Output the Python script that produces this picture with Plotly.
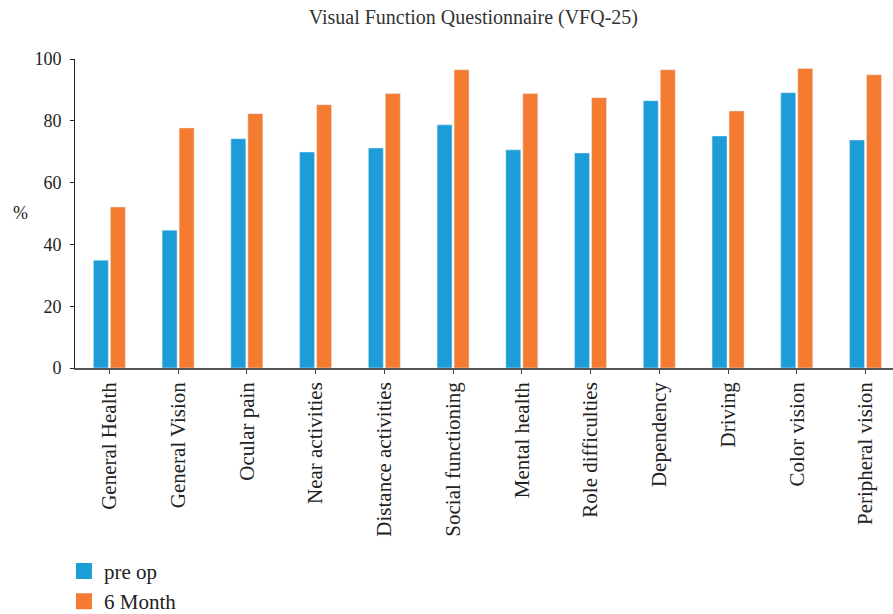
import plotly.graph_objects as go

categories = ["General Health", "General Vision", "Ocular pain", "Near activities",
              "Distance activities", "Social functioning", "Mental health",
              "Role difficulties", "Dependency", "Driving", "Color vision",
              "Peripheral vision"]
pre_op = [34.9, 44.6, 74.2, 69.9, 71.2, 78.7, 70.6, 69.6, 86.5, 75.1, 89.1, 73.8]
month6 = [52.1, 77.7, 82.3, 85.2, 88.8, 96.5, 88.8, 87.5, 96.5, 83.2, 96.9, 94.9]
y_ticks = [0, 20, 40, 60, 80, 100]

BLUE = "#1c9dd8"
ORANGE = "#f47b2f"
FONT = "Liberation Serif"

fig = go.Figure()
fig.add_trace(go.Bar(x=categories, y=pre_op, marker_color=BLUE, showlegend=False))
fig.add_trace(go.Bar(x=categories, y=month6, marker_color=ORANGE, showlegend=False))
fig.add_trace(go.Scatter(x=[None], y=[None], mode="markers", name="pre op",
                         marker=dict(symbol="square", size=16, color=BLUE)))
fig.add_trace(go.Scatter(x=[None], y=[None], mode="markers", name="6 Month",
                         marker=dict(symbol="square", size=16, color=ORANGE)))

fig.update_layout(
    width=893, height=614,
    margin=dict(l=75, r=0, t=59, b=246),
    paper_bgcolor="white", plot_bgcolor="white",
    font=dict(family=FONT, size=19, color="#222"),
    barmode="group", bargap=0.505, bargroupgap=0.12,
    title=dict(text="Visual Function Questionnaire (VFQ-25)", x=0.487, xref="paper",
               xanchor="center", y=0.972, yanchor="middle",
               font=dict(family=FONT, size=20, color="#333")),
    showlegend=True,
    legend=dict(x=-0.0135, xanchor="left", xref="paper", y=0.103, yref="container",
                yanchor="top", orientation="v",
                font=dict(family=FONT, size=21, color="#222"),
                bgcolor="rgba(0,0,0,0)", tracegroupgap=0),
    xaxis=dict(range=[-0.5, 11.4], showline=True, linecolor="#555", linewidth=1.5,
               ticks="outside", ticklen=4, tickcolor="#444", tickangle=-90,
               tickfont=dict(family=FONT, size=21, color="#222"),
               showgrid=False, zeroline=False, fixedrange=True),
    yaxis=dict(range=[0, 100], tickvals=y_ticks, showline=True, linecolor="#222",
               linewidth=1, ticks="outside", ticklen=4, tickcolor="#222",
               ticklabelstandoff=5,
               tickfont=dict(family=FONT, size=18, color="#222"),
               showgrid=False, zeroline=False),
    annotations=[dict(text="%", x=-0.067, y=0.502, xref="paper", yref="paper",
                      xanchor="center", yanchor="middle", showarrow=False,
                      font=dict(family=FONT, size=18, color="#222"))],
)

fig.write_html("out.html", config={"displayModeBar": False},
               post_script="document.body.style.margin='0px';")
